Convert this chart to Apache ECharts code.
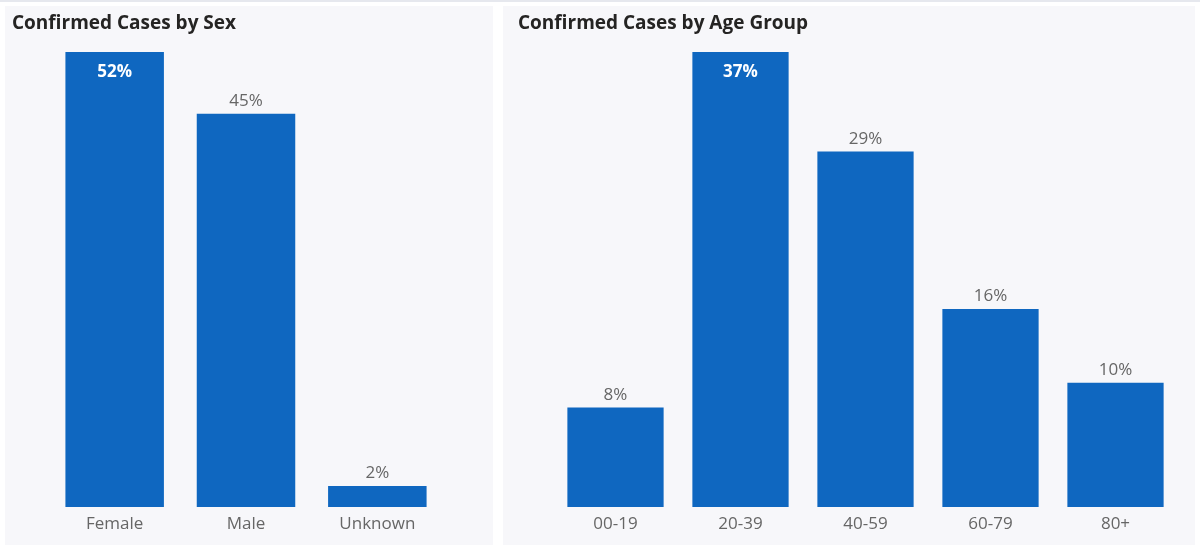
<!DOCTYPE html>
<html>
<head>
<meta charset="utf-8">
<script src="https://cdn.jsdelivr.net/npm/echarts@6/dist/echarts.min.js"></script>
<style>
  html, body { margin: 0; padding: 0; background: #fff; }
  #main { width: 1200px; height: 549px; }
</style>
</head>
<body>
<div id="main"></div>
<script>
// data (percent of confirmed cases)
var sexCats = ['Female', 'Male', 'Unknown'];
var sexVals = [52.3, 45.2, 2.4];
var ageCats = ['00-19', '20-39', '40-59', '60-79', '80+'];
var ageVals = [8.1, 37.0, 28.9, 16.1, 10.1];

var BAR = '#0f67c0';
var FONT = '"Open Sans", "Noto Sans", sans-serif';

var chart = echarts.init(document.getElementById('main'));

function pct(p) { return Math.round(p.value) + '%'; }

// the tallest bar gets its label inside (white, bold), the rest on top
function barData(vals) {
  var max = Math.max.apply(null, vals);
  return vals.map(function (v) {
    if (v === max) {
      return {
        value: v,
        label: { position: 'insideTop', distance: 12, color: '#fff', fontWeight: 'bold' }
      };
    }
    return v;
  });
}

var catAxis = {
  type: 'category',
  axisLine: { show: false },
  axisTick: { show: false },
  axisLabel: { color: '#666', fontSize: 17, fontFamily: FONT, margin: 9 }
};
var valAxis = { type: 'value', min: 0, show: false, splitLine: { show: false } };

var titleStyle = { fontSize: 19, fontWeight: 'bold', color: '#252423', fontFamily: FONT };

var option = {
  backgroundColor: '#fff',
  animation: false,
  graphic: [
    { type: 'rect', shape: { x: 0, y: 0, width: 1200, height: 2 }, style: { fill: '#e6e8ee' } },
    { type: 'rect', shape: { x: 5, y: 6, width: 488, height: 539 }, style: { fill: '#f7f7fa' } },
    { type: 'rect', shape: { x: 503, y: 6, width: 692, height: 539 }, style: { fill: '#f7f7fa' } }
  ],
  title: [
    { text: 'Confirmed Cases by Sex', left: 7, top: 9, textStyle: titleStyle },
    { text: 'Confirmed Cases by Age Group', left: 513, top: 9, textStyle: titleStyle }
  ],
  grid: [
    { left: 49, width: 394, top: 52, height: 455 },
    { left: 553, width: 625, top: 52, height: 455 }
  ],
  xAxis: [
    Object.assign({ gridIndex: 0, data: sexCats }, catAxis),
    Object.assign({ gridIndex: 1, data: ageCats }, catAxis)
  ],
  yAxis: [
    Object.assign({ gridIndex: 0, max: sexVals[0] }, valAxis),
    Object.assign({ gridIndex: 1, max: ageVals[1] }, valAxis)
  ],
  series: [
    {
      type: 'bar', xAxisIndex: 0, yAxisIndex: 0,
      data: barData(sexVals),
      barCategoryGap: '25%',
      itemStyle: { color: BAR },
      label: { show: true, position: 'top', distance: 4, formatter: pct,
        color: '#666', fontSize: 17, fontFamily: FONT }
    },
    {
      type: 'bar', xAxisIndex: 1, yAxisIndex: 1,
      data: barData(ageVals),
      barCategoryGap: '23%',
      itemStyle: { color: BAR },
      label: { show: true, position: 'top', distance: 4, formatter: pct,
        color: '#666', fontSize: 17, fontFamily: FONT }
    }
  ]
};

chart.setOption(option);
</script>
</body>
</html>
